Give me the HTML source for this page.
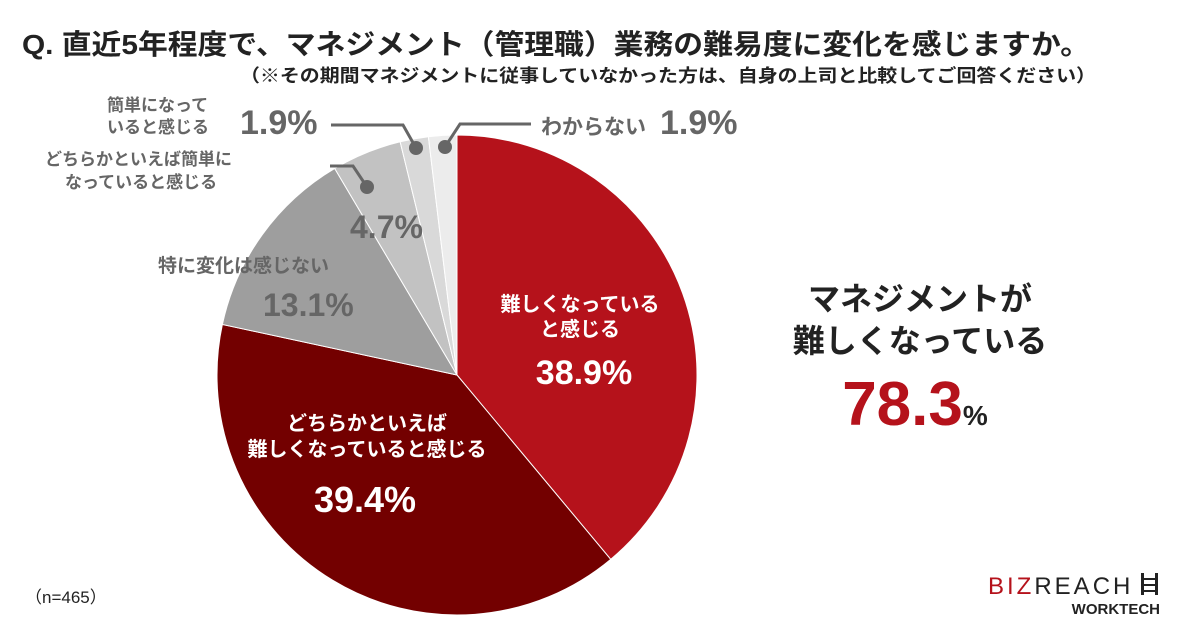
<!DOCTYPE html>
<html><head><meta charset="utf-8"><style>
body{margin:0;width:1200px;height:630px;background:#fff;overflow:hidden;font-family:"Liberation Sans","Noto Sans CJK JP",sans-serif}
</style></head><body>
<svg width="1200" height="630" style="font-family:'Liberation Sans','Noto Sans CJK JP',sans-serif;font-weight:bold">
<text x="22" y="54" font-size="28" fill="#222" textLength="1068" lengthAdjust="spacingAndGlyphs">Q. 直近5年程度で、マネジメント（管理職）業務の難易度に変化を感じますか。</text>
<text x="240" y="82" font-size="18" fill="#222" textLength="856" lengthAdjust="spacingAndGlyphs">（※その期間マネジメントに従事していなかった方は、自身の上司と比較してご回答ください）</text>
<g id="slices"></g>
<g stroke="#666" stroke-width="3" fill="none">
<polyline points="331,125 403,125 416,148"/>
<polyline points="531,124 460,124 445,147"/>
<polyline points="330,166 353,166 367,187"/>
</g>
<g fill="#666"><circle cx="416" cy="148" r="7"/><circle cx="445" cy="147" r="7"/><circle cx="367" cy="187" r="7"/></g>
<g fill="#666">
<text x="107" y="111" font-size="17">簡単になって</text>
<text x="107" y="133" font-size="17">いると感じる</text>
<text x="240" y="134" font-size="34">1.9%</text>
<text x="541" y="134" font-size="21">わからない</text>
<text x="660" y="134" font-size="34">1.9%</text>
<text x="45" y="165" font-size="17">どちらかといえば簡単に</text>
<text x="65" y="188" font-size="17">なっていると感じる</text>
<text x="350" y="238" font-size="32">4.7%</text>
<text x="158" y="272" font-size="19">特に変化は感じない</text>
<text x="263" y="316" font-size="32">13.1%</text>
</g>
<g fill="#fff" text-anchor="middle">
<text x="580" y="311" font-size="20">難しくなっている</text>
<text x="580" y="336" font-size="20">と感じる</text>
<text x="584" y="384" font-size="34">38.9%</text>
<text x="367" y="430" font-size="20">どちらかといえば</text>
<text x="367" y="456" font-size="20">難しくなっていると感じる</text>
<text x="365" y="512" font-size="36">39.4%</text>
</g>
<g text-anchor="middle">
<text x="920" y="310" font-size="32" fill="#222">マネジメントが</text>
<text x="920" y="352" font-size="32" fill="#222">難しくなっている</text>
<text x="915" y="425" font-size="62" fill="#b5121b">78.3<tspan font-size="28" fill="#222">%</tspan></text>
</g>
<text x="25" y="603" font-size="17" font-weight="normal" fill="#222">（n=465）</text>
<g>
<text x="988" y="594" font-size="24" font-weight="normal" letter-spacing="3" fill="#b5121b">BIZ<tspan fill="#222">REACH</tspan></text>
<rect x="1141" y="573" width="3" height="22" fill="#222"/><rect x="1155" y="573" width="3" height="22" fill="#222"/>
<rect x="1141" y="578" width="17" height="2" fill="#222"/><rect x="1141" y="584" width="17" height="2" fill="#222"/><rect x="1141" y="590" width="17" height="2" fill="#222"/>
<text x="1160" y="614" font-size="15" text-anchor="end" fill="#222">WORKTECH</text>
</g>
</svg>
<script>
const categories=["難しくなっていると感じる","どちらかといえば難しくなっていると感じる","特に変化は感じない","どちらかといえば簡単になっていると感じる","簡単になっていると感じる","わからない"];
const values=[38.9,39.4,13.1,4.7,1.9,1.9];
const colors=["#b5121b","#730000","#9e9e9e","#c2c2c2","#d9d9d9","#ececec"];
const cx=457,cy=375,r=240;
const total=values.reduce((a,b)=>a+b,0);
const g=document.getElementById('slices');
let a=0;
values.forEach((v,i)=>{
  const a1=a+v/total*2*Math.PI;
  const x0=cx+r*Math.sin(a),y0=cy-r*Math.cos(a),x1=cx+r*Math.sin(a1),y1=cy-r*Math.cos(a1);
  const p=document.createElementNS('http://www.w3.org/2000/svg','path');
  p.setAttribute('d',`M${cx},${cy}L${x0},${y0}A${r},${r} 0 ${a1-a>Math.PI?1:0} 1 ${x1},${y1}Z`);
  p.setAttribute('fill',colors[i]);
  p.setAttribute('stroke','#fff');p.setAttribute('stroke-width','1');
  
  
  g.appendChild(p);
  a=a1;
});
</script>
</body></html>
